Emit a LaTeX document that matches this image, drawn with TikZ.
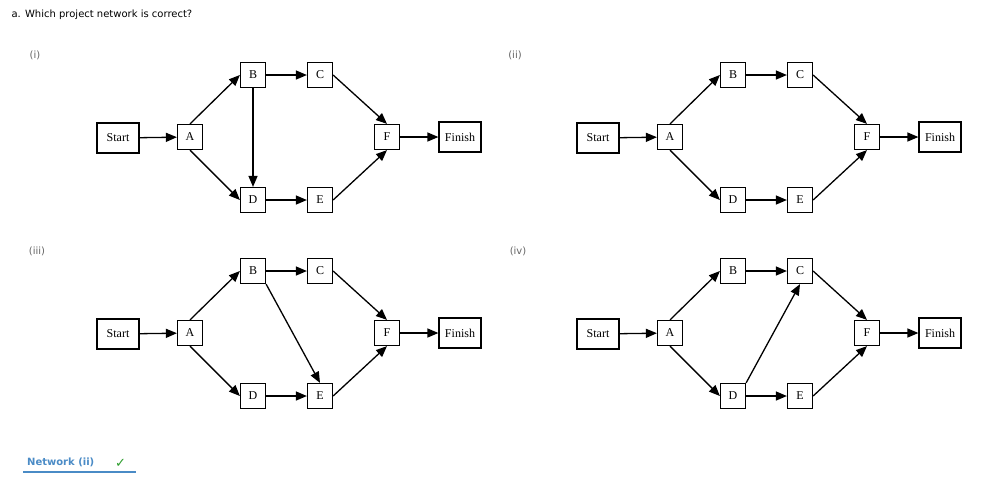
\documentclass[tikz,border=0pt]{standalone}
\usepackage{fontspec}
\setmainfont{Liberation Serif}
\newfontfamily\uifont{DejaVu Sans}
\usetikzlibrary{arrows.meta}
\definecolor{linkblue}{HTML}{4A8BC6}
\definecolor{okgreen}{HTML}{2E9E2E}
\definecolor{greytxt}{HTML}{666666}
\tikzset{
  bx/.style={draw,line width=1.2pt,minimum width=25pt,minimum height=25pt,inner sep=2pt,font=\fontsize{12}{12}\selectfont},
  wbx/.style={bx,minimum width=42pt,minimum height=30pt},
  arr/.style={line width=1.3pt,-{Triangle[length=11pt,width=9pt]}},
  lbl/.style={font=\uifont\fontsize{10}{10}\selectfont,text=greytxt}
}
\newcommand{\panelnet}[3]{%
\begin{scope}[shift={#1},name prefix=#2-]
\node[wbx] (S) at (118,138) {Start};
\node[bx] (A) at (190,137) {A};
\node[bx] (B) at (253,75) {B};
\node[bx] (C) at (320,75) {C};
\node[bx] (D) at (253,200) {D};
\node[bx] (E) at (320,200) {E};
\node[bx] (F) at (387,137) {F};
\node[wbx] (Fi) at (460,137) {Finish};
\draw[arr] (S) -- (A);
\draw[arr] (A.north) -- (B.west);
\draw[arr] (A.south) -- (D.west);
\draw[arr] (B) -- (C);
\draw[arr] (D) -- (E);
\draw[arr] (C.east) -- (F.north);
\draw[arr] (E.east) -- (F.south);
\draw[arr] (F) -- (Fi);
#3
\end{scope}}
\begin{document}
\begin{tikzpicture}[x=1pt,y=-1pt]
\useasboundingbox[fill=white] (0,0) rectangle (988,491);
\node[anchor=west,font=\uifont\fontsize{10}{10}\selectfont] (title) at (8,15) {a. Which project network is correct?};
\node[lbl] (l1) at (35,55) {(i)};
\node[lbl] (l2) at (515,55) {(ii)};
\node[lbl] (l3) at (37,251) {(iii)};
\node[lbl] (l4) at (518,251) {(iv)};
\panelnet{(0,0)}{p1}{\draw[arr] (B) -- (D);}
\panelnet{(480,0)}{p2}{}
\panelnet{(0,196)}{p3}{\draw[arr] (B.south east) -- (E.north);}
\panelnet{(480,196)}{p4}{\draw[arr] (D.north east) -- (C.south);}
\node[anchor=west,font=\uifont\bfseries\fontsize{10}{10}\selectfont,text=linkblue,inner sep=0pt] (ans) at (27,462) {Network (ii)};
\node[anchor=west,font=\uifont\fontsize{13}{13}\selectfont,text=okgreen,inner sep=0pt] (chk) at (115,463) {✓};
\draw[linkblue,line width=1.5pt] (23,472) -- (136,472);
\end{tikzpicture}
\end{document}
